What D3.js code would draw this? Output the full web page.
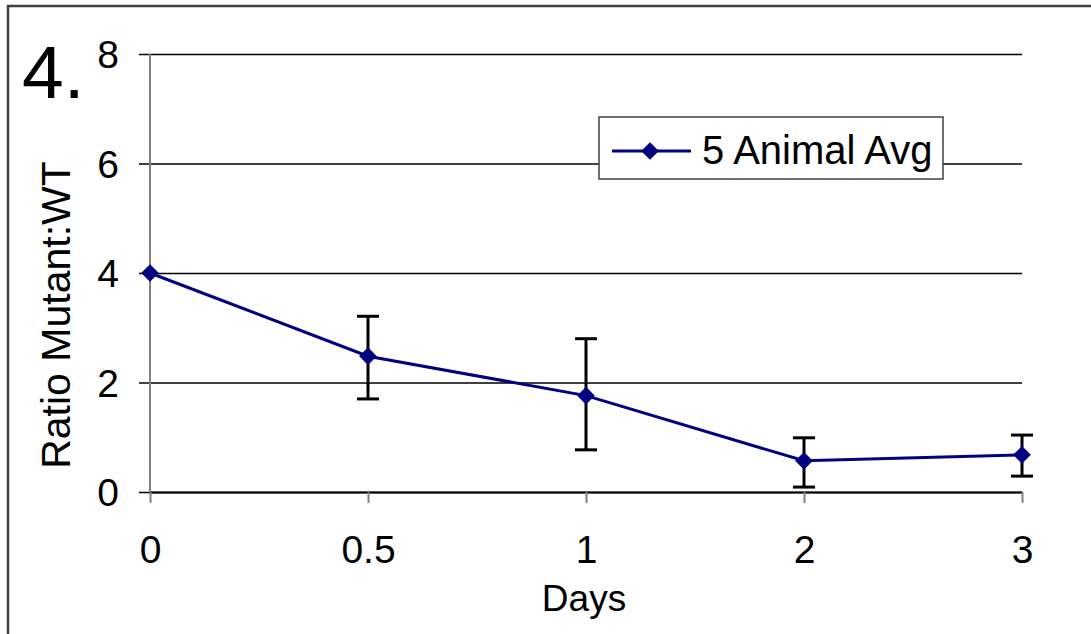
<!DOCTYPE html>
<html>
<head>
<meta charset="utf-8">
<script src="https://cdn.jsdelivr.net/npm/d3@7"></script>
<style>
    body { margin: 0; background: #fff; }
    text { font-family: "Liberation Sans", Arial, sans-serif; fill: #000; }
</style>
</head>
<body>
<div id="chart"></div>
<script>
// data
var days = ["0", "0.5", "1", "2", "3"];
var avgRatio = [4.0, 2.48, 1.76, 0.57, 0.68];
var errHigh = [4.0, 3.21, 2.80, 0.99, 1.04];
var errLow = [4.0, 1.70, 0.77, 0.09, 0.29];
var yTicks = [0, 2, 4, 6, 8];
var seriesName = "5 Animal Avg";

function drawChart(id) {
    var W = 1091, H = 634;
    var margin = { top: 54, right: 69, bottom: 142, left: 150 };
    var width = W - margin.left - margin.right;
    var height = H - margin.top - margin.bottom;
    var lineColor = "#000080";

    var svg = d3.select('#' + id)
        .append("svg")
        .attr("width", W)
        .attr("height", H);

    // outer frame (right/bottom edges run off the picture)
    svg.append("rect")
        .attr("x", 8).attr("y", 6)
        .attr("width", 1200).attr("height", 800)
        .style("fill", "none")
        .style("stroke", "#404040")
        .style("stroke-width", 2.5);

    svg.append("text")
        .attr("x", 22).attr("y", 98)
        .style("font-size", "75px")
        .text("4.");

    var g = svg.append("g")
        .attr("transform", "translate(" + margin.left + "," + margin.top + ")");

    var xScale = d3.scalePoint().domain(days).range([0, width]);
    var yScale = d3.scaleLinear().domain([0, 8]).range([height, 0]);

    // horizontal gridlines, with the little tick stubs on the left
    g.append("g")
        .attr("class", "grid")
        .call(d3.axisLeft(yScale).tickValues(yTicks).tickSize(-width - 11).tickFormat(""))
        .attr("transform", "translate(-11,0)")
        .call(function (s) {
            s.select(".domain").remove();
            s.selectAll("line").style("stroke", "#000").style("stroke-width", 1.5);
        });

    // y axis line
    g.append("line")
        .attr("x1", 0).attr("x2", 0)
        .attr("y1", 0).attr("y2", height)
        .style("stroke", "#808080").style("stroke-width", 2);

    // y tick labels
    g.selectAll(".ylab")
        .data(yTicks).enter()
        .append("text")
        .attr("class", "ylab")
        .attr("x", -31)
        .attr("y", d => yScale(d))
        .attr("dy", "0.36em")
        .attr("text-anchor", "end")
        .style("font-size", "39px")
        .text(d => d);

    // x axis
    var xAxis = g.append("g")
        .attr("transform", "translate(0," + height + ")")
        .call(d3.axisBottom(xScale).tickSize(11).tickSizeOuter(0).tickPadding(32));
    xAxis.select(".domain").style("stroke", "#000").style("stroke-width", 2);
    xAxis.selectAll(".tick line").style("stroke", "#808080").style("stroke-width", 2);
    xAxis.selectAll(".tick text")
        .style("font-size", "39px")
        .style("font-family", "'Liberation Sans', Arial, sans-serif")
        .style("fill", "#000");

    // axis titles
    svg.append("text")
        .attr("x", 584).attr("y", 611)
        .attr("text-anchor", "middle")
        .style("font-size", "37px")
        .text("Days");

    svg.append("text")
        .attr("transform", "translate(70,315) rotate(-90)")
        .attr("text-anchor", "middle")
        .style("font-size", "41px")
        .text("Ratio Mutant:WT");

    var pts = days.map(function (d, i) {
        return { day: d, value: avgRatio[i], hi: errHigh[i], lo: errLow[i] };
    });

    // error bars
    var err = g.selectAll(".err")
        .data(pts.filter(d => d.hi !== d.lo)).enter()
        .append("g")
        .attr("class", "err")
        .style("stroke", "#000")
        .style("stroke-width", 3);
    err.append("line")
        .attr("x1", d => xScale(d.day)).attr("x2", d => xScale(d.day))
        .attr("y1", d => yScale(d.hi)).attr("y2", d => yScale(d.lo));
    err.append("line")
        .attr("x1", d => xScale(d.day) - 11).attr("x2", d => xScale(d.day) + 11)
        .attr("y1", d => yScale(d.hi)).attr("y2", d => yScale(d.hi));
    err.append("line")
        .attr("x1", d => xScale(d.day) - 11).attr("x2", d => xScale(d.day) + 11)
        .attr("y1", d => yScale(d.lo)).attr("y2", d => yScale(d.lo));

    var line = d3.line()
        .x(d => xScale(d.day))
        .y(d => yScale(d.value));

    g.append("path")
        .datum(pts)
        .attr("d", line)
        .style("fill", "none")
        .style("stroke", lineColor)
        .style("stroke-width", 3);

    var diamond = d3.symbol().type(d3.symbolDiamond2).size(200);

    g.selectAll(".pt")
        .data(pts).enter()
        .append("path")
        .attr("class", "pt")
        .attr("transform", d => "translate(" + xScale(d.day) + "," + yScale(d.value) + ")")
        .attr("d", diamond)
        .style("fill", lineColor);

    // legend
    var legend = svg.append("g").attr("class", "legend");
    legend.append("rect")
        .attr("x", 599).attr("y", 117)
        .attr("width", 344).attr("height", 62)
        .style("fill", "#fff")
        .style("stroke", "#404040")
        .style("stroke-width", 1.5);
    legend.append("line")
        .attr("x1", 612).attr("x2", 691)
        .attr("y1", 151).attr("y2", 151)
        .style("stroke", lineColor).style("stroke-width", 3);
    legend.append("path")
        .attr("transform", "translate(650,151)")
        .attr("d", diamond)
        .style("fill", lineColor);
    legend.append("text")
        .attr("x", 702).attr("y", 164)
        .style("font-size", "40px")
        .text(seriesName);
}

drawChart("chart");
</script>
</body>
</html>
